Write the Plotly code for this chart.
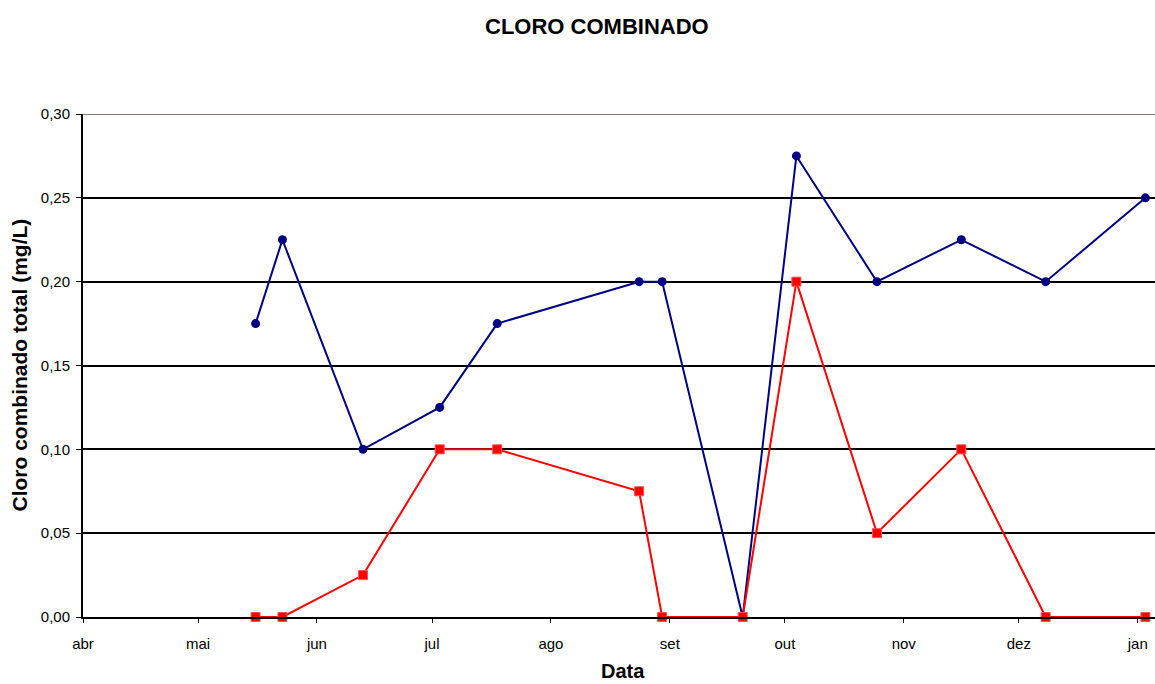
import plotly.graph_objects as go

# sampling dates (shared by both series)
datas = ["2007-05-16", "2007-05-23", "2007-06-13", "2007-07-03", "2007-07-18",
         "2007-08-24", "2007-08-30", "2007-09-20", "2007-10-04", "2007-10-25",
         "2007-11-16", "2007-12-08", "2008-01-03"]
serie_azul = [0.175, 0.225, 0.10, 0.125, 0.175, 0.20, 0.20, 0.0, 0.275, 0.20, 0.225, 0.20, 0.25]
serie_vermelha = [0.0, 0.0, 0.025, 0.10, 0.10, 0.075, 0.0, 0.0, 0.20, 0.05, 0.10, 0.0, 0.0]

meses = ["2007-04-01", "2007-05-01", "2007-06-01", "2007-07-01", "2007-08-01",
         "2007-09-01", "2007-10-01", "2007-11-01", "2007-12-01", "2008-01-01"]
meses_txt = ["abr", "mai", "jun", "jul", "ago", "set", "out", "nov", "dez", "jan"]
y_ticks = [0, 0.05, 0.10, 0.15, 0.20, 0.25, 0.30]

fonte = "Arial, Liberation Sans, sans-serif"
W, H = 1155, 684
L, R, T, B = 83, 0, 114, 67
pw, ph = W - L - R, H - T - B

fig = go.Figure()
fig.add_trace(go.Scatter(x=datas, y=serie_azul, mode="lines+markers",
                         line=dict(color="#000080", width=2),
                         marker=dict(symbol="circle", size=9, color="#000080"),
                         cliponaxis=False, showlegend=False))
fig.add_trace(go.Scatter(x=datas, y=serie_vermelha, mode="lines+markers",
                         line=dict(color="#ff0000", width=2),
                         marker=dict(symbol="square", size=9, color="#ff0000",
                                     line=dict(color="#ff5050", width=1)),
                         cliponaxis=False, showlegend=False))

# plot area top border (mauve-grey)
fig.add_shape(type="line", xref="paper", yref="y", x0=0, x1=1, y0=0.30, y1=0.30,
              line=dict(color="#8a7878", width=2))

# titles placed as annotations
fig.add_annotation(text="<b>CLORO COMBINADO</b>",
                   xref="paper", yref="paper", x=(597 - L) / pw, y=1 + (T - 26) / ph,
                   xanchor="center", yanchor="middle", showarrow=False,
                   font=dict(family=fonte, size=22, color="black"))
fig.add_annotation(text="<b>Cloro combinado total (mg/L)</b>", textangle=-90,
                   xref="paper", yref="paper", x=-(L - 19) / pw, y=0.5,
                   xanchor="center", yanchor="middle", showarrow=False,
                   font=dict(family=fonte, size=21, color="black"))
fig.add_annotation(text="<b>Data</b>",
                   xref="paper", yref="paper", x=(623 - L) / pw, y=-(671 - (H - B)) / ph,
                   xanchor="center", yanchor="middle", showarrow=False,
                   font=dict(family=fonte, size=20, color="black"))

fig.update_layout(
    width=W, height=H,
    margin=dict(l=L, r=R, t=T, b=B),
    paper_bgcolor="white", plot_bgcolor="white",
    separators=",.",
    font=dict(family=fonte, size=15, color="black"),
    xaxis=dict(type="date", range=["2007-04-01", "2008-01-05 12:00"],
               tickvals=meses, ticktext=meses_txt,
               showgrid=False, zeroline=False,
               showline=True, linecolor="black", linewidth=2,
               ticks="outside", ticklen=4, tickwidth=1, tickcolor="black",
               tickfont=dict(size=15), ticklabelstandoff=8),
    yaxis=dict(range=[0, 0.30], tickvals=y_ticks, tickformat=".2f",
               showgrid=True, gridcolor="black", gridwidth=2,
               zeroline=False,
               showline=True, linecolor="black", linewidth=2,
               ticks="outside", ticklen=5, tickwidth=1, tickcolor="black",
               tickfont=dict(size=15), ticklabelstandoff=3),
)

fig.write_html("out.html", config={"displayModeBar": False},
               post_script="document.body.style.margin='0';document.body.style.overflow='hidden';")
